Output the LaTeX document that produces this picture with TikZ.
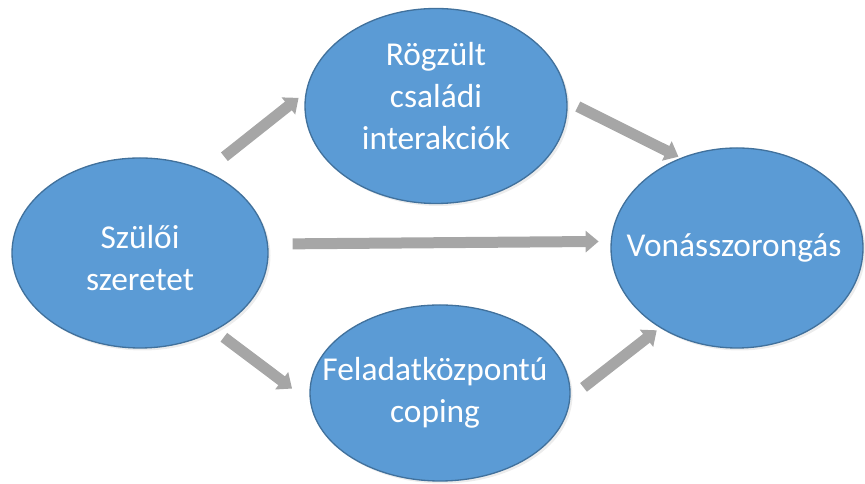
\documentclass[tikz,border=0pt]{standalone}
\usepackage{fontspec}
\setmainfont{Carlito}
\usetikzlibrary{arrows.meta,shapes.geometric,shadows}
\definecolor{bubblefill}{HTML}{5B9BD5}
\definecolor{bubbleline}{HTML}{41719C}
\definecolor{arrowgray}{HTML}{A6A6A6}

\begin{document}
\begin{tikzpicture}[bubble/.style = {ellipse, draw = bubbleline, line width = 0.75pt, fill = bubblefill, inner sep = 0pt,
                                     drop shadow = {opacity = 0.15, shadow xshift = 0.05cm, shadow yshift = -0.05cm}},
                        words/.style = {text = white, align = center, font = \fontsize{19}{24}\selectfont},
                        link/.style = {draw = arrowgray, line width = 0.22cm, -{Triangle[length = 0.26cm, width = 0.42cm]}}]
      \useasboundingbox (0, 0) rectangle (17.3, 9.68);
      \node [bubble, minimum width = 5.12cm, minimum height = 3.8cm,
             label = {[words, yshift = -0.1cm]center:Szülői\\szeretet}] (love) at (2.8, 4.62){};
      \node [bubble, minimum width = 5.24cm, minimum height = 3.9cm,
             label = {[words, yshift = 0.2cm]center:Rögzült\\családi\\interakciók}] (family) at (8.72, 7.56){};
      \node [bubble, minimum width = 5.2cm, minimum height = 3.52cm,
             label = {[words, xshift = -0.1cm]center:Feladatközpontú\\coping}] (coping) at (8.8, 1.82){};
      \node [bubble, minimum width = 5.04cm, minimum height = 4cm,
             label = {[words, xshift = -0.06cm]center:Vonásszorongás}] (anxiety) at (14.74, 4.72){};
      \draw [link, shorten < = 0.46cm, shorten > = 0.18cm] (love.51.8) -- (family.174.1);
      \draw [link, shorten < = 0.23cm, shorten > = 0.05cm] (family.2.65) -- (anxiety.122.6);
      \draw [link, shorten < = 0.49cm, shorten > = 0.24cm] (love.4.49) -- (anxiety.177.7);
      \draw [link, shorten < = 0.22cm, shorten > = 0.45cm] (love.-46.2) -- (coping.184.7);
      \draw [link, shorten < = 0.33cm, shorten > = 0.08cm] (coping.-2.1) -- (anxiety.226.8);
    \end{tikzpicture}
\end{document}
